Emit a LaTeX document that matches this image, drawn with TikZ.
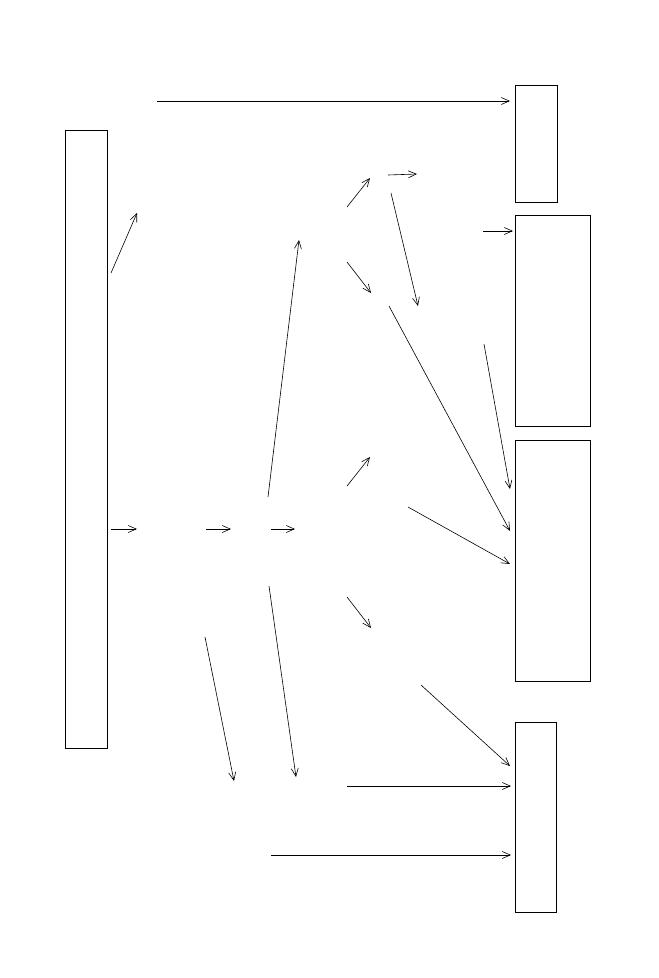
\documentclass[tikz,border=0pt]{standalone}
\usepackage{tikz}
\usetikzlibrary{calc,positioning,arrows.meta}
\tikzset{
  >={Straight Barb[length=8pt,width=7pt]},
  kasse/.style={
    rectangle,
    draw=black, line width=0.9pt,
    inner sep=0pt,
    anchor=north west
  },
  line/.style={draw, line width=0.6pt, ->},
}
\begin{document}
\begin{tikzpicture}[x=1pt, y=-1pt]
  \useasboundingbox (0,0) rectangle (659,978);
  % boxes
  \node[kasse, minimum width=42pt, minimum height=618pt] (src) at (65,130) {};
  \node[kasse, minimum width=42pt, minimum height=117pt] (outA) at (515,85) {};
  \node[kasse, minimum width=75pt, minimum height=211pt] (outB) at (515,215) {};
  \node[kasse, minimum width=75pt, minimum height=241pt] (outC) at (515,440) {};
  \node[kasse, minimum width=41pt, minimum height=190pt] (outD) at (515,722) {};
  % free ends
  \coordinate (t1) at (157,101);  \coordinate (t1e) at (510,101);
  \coordinate (u1) at (111,273);  \coordinate (u1e) at (137,213);
  \coordinate (m1) at (111,529);  \coordinate (m1e) at (137,529);
  \coordinate (m2) at (206,529);  \coordinate (m2e) at (231,529);
  \coordinate (m3) at (271,529);  \coordinate (m3e) at (295,529);
  \coordinate (k1) at (268,497);  \coordinate (k1e) at (299,240);
  \coordinate (a1) at (347,207);  \coordinate (a1e) at (370,178);
  \coordinate (a2) at (388,175);  \coordinate (a2e) at (417,174);
  \coordinate (a3) at (391,193);  \coordinate (a3e) at (418,306);
  \coordinate (b1) at (347,262);  \coordinate (b1e) at (371,293);
  \coordinate (b2) at (483,231);  \coordinate (b2e) at (513,231);
  \coordinate (b3) at (389,306);  \coordinate (b3e) at (510,531);
  \coordinate (b4) at (484,344);  \coordinate (b4e) at (510,489);
  \coordinate (c1) at (347,486);  \coordinate (c1e) at (370,457);
  \coordinate (c2) at (408,507);  \coordinate (c2e) at (510,564);
  \coordinate (d1) at (347,597);  \coordinate (d1e) at (371,628);
  \coordinate (d2) at (269,586);  \coordinate (d2e) at (296,777);
  \coordinate (d3) at (205,637);  \coordinate (d3e) at (234,781);
  \coordinate (d4) at (421,685);  \coordinate (d4e) at (510,766);
  \coordinate (d5) at (347,786);  \coordinate (d5e) at (511,786);
  \coordinate (d6) at (271,855);  \coordinate (d6e) at (511,855);
  % connectors
  \foreach \s in {t1,u1,m1,m2,m3,k1,a1,a2,a3,b1,b2,b3,b4,c1,c2,d1,d2,d3,d4,d5,d6}
    \path[line] (\s) -- (\s e);
\end{tikzpicture}
\end{document}
